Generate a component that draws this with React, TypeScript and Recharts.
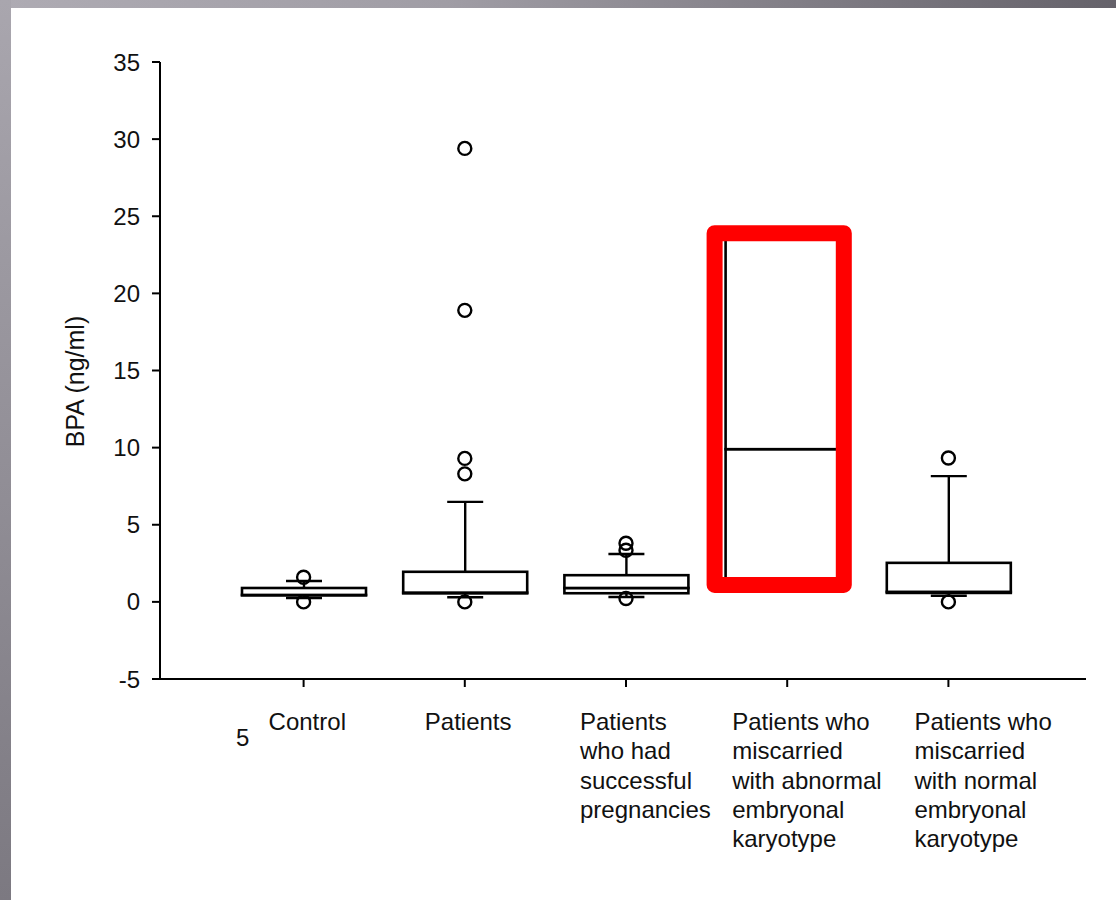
import React from "react";
import {
  ComposedChart,
  Bar,
  Line,
  XAxis,
  YAxis,
  ReferenceArea,
  Label,
} from "recharts";

// categories, one array of lines per tick label
const categoryLines: string[][] = [
  ["Control"],
  ["Patients"],
  ["Patients", "who had", "successful", "pregnancies"],
  ["Patients who", "miscarried", "with abnormal", "embryonal", "karyotype"],
  ["Patients who", "miscarried", "with normal", "embryonal", "karyotype"],
];
const categories = categoryLines.map((l) => l.join(" "));

// box plot values (ng/ml)
const whiskerLow = [0.25, 0.3, 0.32, 1.1, 0.4];
const quartile1 = [0.42, 0.55, 0.56, 1.1, 0.58];
const medians = [0.45, 0.6, 0.9, 9.9, 0.65];
const quartile3 = [0.9, 1.95, 1.73, 23.9, 2.53];
const whiskerHigh = [1.35, 6.48, 3.1, 23.9, 8.15];
const outliers: number[][] = [
  [1.6, 0.0],
  [29.4, 18.9, 9.3, 8.3, 0.0],
  [3.8, 3.35, 0.22],
  [],
  [9.33, 0.0],
];

const yTicks = [-5, 0, 5, 10, 15, 20, 25, 30, 35];

// red annotation around the 4th group
const highlightLow = 1.1;
const highlightHigh = 23.9;

const FONT = '"Liberation Sans", Arial, Helvetica, sans-serif';
const labelShift = [-35, -40, -46, -55, -34];

const rows = categories.map((name, i) => {
  const row: any = {
    name,
    base: whiskerLow[i],
    lowW: quartile1[i] - whiskerLow[i],
    boxLo: medians[i] - quartile1[i],
    boxHi: quartile3[i] - medians[i],
    highW: whiskerHigh[i] - quartile3[i],
  };
  for (let k = 0; k < 5; k++) {
    row["o" + k] = outliers[i][k] ?? null;
  }
  return row;
});

const Empty = () => <g />;

const BoxPart = (props: any) => {
  const { x, y, width, height } = props;
  if (!(height > 0.3)) return <g />;
  return (
    <rect
      x={x}
      y={y}
      width={width}
      height={height}
      fill="#fff"
      stroke="#000"
      strokeWidth={2.6}
    />
  );
};

const LowWhisker = (props: any) => {
  const { x, y, width, height } = props;
  if (!(height > 0.3)) return <g />;
  const cx = x + width / 2;
  return (
    <g stroke="#000" strokeWidth={2.4}>
      <line x1={cx} x2={cx} y1={y} y2={y + height} />
      <line x1={cx - 18} x2={cx + 18} y1={y + height} y2={y + height} />
    </g>
  );
};

const HighWhisker = (props: any) => {
  const { x, y, width, height } = props;
  if (!(height > 0.3)) return <g />;
  const cx = x + width / 2;
  return (
    <g stroke="#000" strokeWidth={2.4}>
      <line x1={cx} x2={cx} y1={y} y2={y + height} />
      <line x1={cx - 18} x2={cx + 18} y1={y} y2={y} />
    </g>
  );
};

const HighlightShape = (props: any) => {
  const { x, y, width, height } = props;
  return (
    <rect
      x={x + 8}
      y={y}
      width={width - 32}
      height={height}
      fill="none"
      stroke="#ff0000"
      strokeWidth={16}
      strokeLinejoin="round"
    />
  );
};

const CatTick = (props: any) => {
  const { x, y, index } = props;
  const lines = categoryLines[index] || [];
  return (
    <text
      x={x + labelShift[index]}
      y={y + 41}
      fill="#111"
      fontSize={24}
      fontFamily={FONT}
      textAnchor="start"
    >
      {lines.map((t, i) => (
        <tspan key={i} x={x + labelShift[index]} dy={i === 0 ? 0 : 29.3}>
          {t}
        </tspan>
      ))}
    </text>
  );
};

const YLabel = (props: any) => {
  const vb = props.viewBox || { x: 80, y: 62, width: 80, height: 617 };
  const cx = vb.x - 5;
  const cy = vb.y + vb.height / 2 + 11;
  return (
    <text
      x={cx}
      y={cy}
      transform={`rotate(-90, ${cx}, ${cy})`}
      textAnchor="middle"
      dominantBaseline="central"
      fill="#111"
      fontSize={25}
      fontFamily={FONT}
    >
      BPA (ng/ml)
    </text>
  );
};

const dotStyle = { r: 6.5, stroke: "#000", strokeWidth: 2.4, fill: "none" };

const xPadding = { left: 63, right: 57 };

export default function App() {
  return (
    <div
      style={{
        position: "absolute",
        left: 0,
        top: 0,
        width: 1116,
        height: 900,
        background: "#fff",
        overflow: "hidden",
      }}
    >
      <ComposedChart
        width={1116}
        height={900}
        data={rows}
        margin={{ top: 62, right: 30, left: 80, bottom: 21 }}
      >
        <XAxis
          dataKey="name"
          type="category"
          interval={0}
          padding={xPadding}
          height={200}
          tickSize={8}
          axisLine={{ stroke: "#000", strokeWidth: 2 }}
          tickLine={{ stroke: "#000", strokeWidth: 2 }}
          tick={(p: any) => <CatTick {...p} />}
        />
        <YAxis
          type="number"
          domain={[-5, 35]}
          ticks={yTicks}
          interval={0}
          width={80}
          tickSize={8}
          tickMargin={12}
          axisLine={{ stroke: "#000", strokeWidth: 2 }}
          tickLine={{ stroke: "#000", strokeWidth: 2 }}
          tick={{ fill: "#111", fontSize: 24, fontFamily: FONT }}
        >
          <Label content={<YLabel />} />
        </YAxis>

        <Bar dataKey="base" stackId="box" barSize={124} shape={<Empty />} isAnimationActive={false} />
        <Bar dataKey="lowW" stackId="box" barSize={124} shape={<LowWhisker />} isAnimationActive={false} />
        <Bar dataKey="boxLo" stackId="box" barSize={124} shape={<BoxPart />} isAnimationActive={false} />
        <Bar dataKey="boxHi" stackId="box" barSize={124} shape={<BoxPart />} isAnimationActive={false} />
        <Bar dataKey="highW" stackId="box" barSize={124} shape={<HighWhisker />} isAnimationActive={false} />

        {[0, 1, 2, 3, 4].map((k) => (
          <Line
            key={k}
            dataKey={"o" + k}
            stroke="none"
            dot={dotStyle}
            activeDot={false}
            connectNulls={false}
            isAnimationActive={false}
          />
        ))}

        <ReferenceArea
          x1={categories[3]}
          x2={categories[3]}
          y1={highlightLow}
          y2={highlightHigh}
          shape={HighlightShape}
          {...({ zIndex: 2000 } as any)}
        />
      </ComposedChart>

      <svg
        width={1116}
        height={900}
        style={{ position: "absolute", left: 0, top: 0, pointerEvents: "none" }}
      >
        <defs>
          <linearGradient id="topBand" x1="0" y1="0" x2="1" y2="0">
            <stop offset="0%" stopColor="#aeabb3" />
            <stop offset="40%" stopColor="#a09da5" />
            <stop offset="100%" stopColor="#65626a" />
          </linearGradient>
          <linearGradient id="leftBand" x1="0" y1="0" x2="0" y2="1">
            <stop offset="0%" stopColor="#a9a6ae" />
            <stop offset="100%" stopColor="#7c7981" />
          </linearGradient>
        </defs>
        <rect x={0} y={0} width={1116} height={8} fill="url(#topBand)" />
        <rect x={0} y={0} width={11} height={900} fill="url(#leftBand)" />
        <text x={236} y={746} fill="#111" fontSize={24} fontFamily={FONT}>
          5
        </text>
      </svg>
    </div>
  );
}
